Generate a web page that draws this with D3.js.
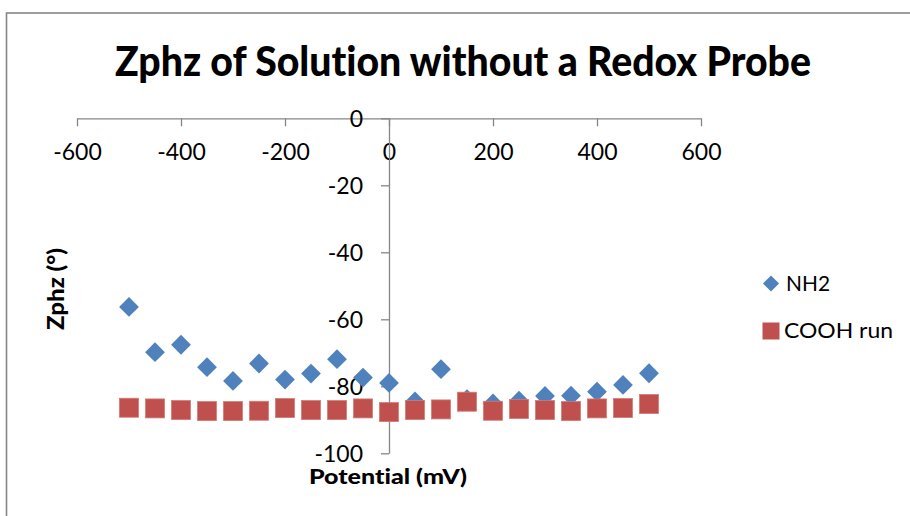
<!DOCTYPE html>
<html>
<head>
<meta charset="utf-8">
<script src="https://cdn.jsdelivr.net/npm/d3@7"></script>
<style>
  html, body { margin: 0; padding: 0; background: #fff; }
  svg { display: block; font-variant-ligatures: none; }
  text { font-variant-ligatures: none; }
  .tick text { font-family: Lato, "Liberation Sans", sans-serif; font-size: 23px; fill: #000; }
</style>
</head>
<body>
<svg id="chart" width="910" height="516"></svg>
<script>
// Potential sweep (mV)
const potentials = [-500, -450, -400, -350, -300, -250, -200, -150, -100, -50, 0,
                    50, 100, 150, 200, 250, 300, 350, 400, 450, 500];
// Phase angle (°) for each electrode
const nh2 = [-56.3, -69.8, -67.6, -74.3, -78.4, -73.2, -78.0, -76.2, -71.9, -77.4, -79.0,
             -84.5, -74.9, -83.8, -85.1, -84.3, -82.9, -82.8, -81.6, -79.6, -76.1];
const cooh = [-86.4, -86.6, -87.1, -87.4, -87.4, -87.3, -86.5, -87.1, -87.1, -86.6, -87.7,
              -87.1, -86.9, -84.6, -87.3, -86.8, -87.1, -87.4, -86.6, -86.5, -85.3];
const xTicks = [-600, -400, -200, 0, 200, 400, 600];
const yTicks = [-100, -80, -60, -40, -20, 0];
const seriesNames = ["NH2", "COOH run"];
const seriesColors = ["#4F81BD", "#C0504D"];

const svg = d3.select("#chart");
const axisColor = "#868686";
const font = "Lato, 'Liberation Sans', sans-serif";
// plain hyphen-minus for negative tick values
const plain = d => String(d);

// chart frame
svg.append("rect")
  .attr("x", 6.5).attr("y", 13)
  .attr("width", 950).attr("height", 600)
  .attr("fill", "none").attr("stroke", axisColor).attr("stroke-width", 1.6);

const x = d3.scaleLinear().domain([-600, 600]).range([77, 701]);
const y = d3.scaleLinear().domain([-100, 0]).range([453.3, 118.3]);

// title
svg.append("text")
  .attr("x", 463).attr("y", 76)
  .attr("text-anchor", "middle")
  .attr("font-family", font)
  .attr("font-weight", "900").attr("font-size", 41)
  .attr("textLength", 696).attr("lengthAdjust", "spacingAndGlyphs")
  .text("Zphz of Solution without a Redox Probe");

// x axis crossing at y = 0
const gx = svg.append("g")
  .attr("transform", `translate(0,${y(0)})`)
  .call(d3.axisBottom(x).tickValues(xTicks).tickFormat(plain)
    .tickSize(8).tickSizeOuter(0).tickPadding(17));
gx.select(".domain").attr("stroke", axisColor).attr("stroke-width", 1.3);
gx.selectAll(".tick line").attr("stroke", axisColor).attr("stroke-width", 1.3);
gx.selectAll(".tick text").attr("font-family", null).attr("font-size", null);

// y axis crossing at x = 0
const gy = svg.append("g")
  .attr("transform", `translate(${x(0)},0)`)
  .call(d3.axisLeft(y).tickValues(yTicks).tickFormat(plain)
    .tickSize(8).tickSizeOuter(0).tickPadding(18));
gy.select(".domain").attr("stroke", axisColor).attr("stroke-width", 1.3);
gy.selectAll(".tick line").attr("stroke", axisColor).attr("stroke-width", 1.3);
gy.selectAll(".tick text").attr("font-family", null).attr("font-size", null).attr("dy", "0.36em");

// axis titles
svg.append("text")
  .attr("x", 388).attr("y", 484)
  .attr("text-anchor", "middle")
  .attr("font-family", font)
  .attr("font-weight", "900").attr("font-size", 21)
  .attr("textLength", 158).attr("lengthAdjust", "spacingAndGlyphs")
  .text("Potential (mV)");

svg.append("text")
  .attr("transform", "translate(64,289) rotate(-90)")
  .attr("text-anchor", "middle")
  .attr("font-family", font)
  .attr("font-weight", "900").attr("font-size", 23)
  .attr("textLength", 82).attr("lengthAdjust", "spacingAndGlyphs")
  .text("Zphz (°)");

// NH2 series: diamonds
svg.append("g").selectAll("rect")
  .data(potentials.map((p, i) => [p, nh2[i]]))
  .join("rect")
  .attr("x", -7).attr("y", -7).attr("width", 14).attr("height", 14)
  .attr("transform", d => `translate(${x(d[0])},${y(d[1])}) rotate(45)`)
  .attr("fill", seriesColors[0]);

// COOH series: squares
svg.append("g").selectAll("rect")
  .data(potentials.map((p, i) => [p, cooh[i]]))
  .join("rect")
  .attr("x", d => x(d[0]) - 9.5).attr("y", d => y(d[1]) - 9.5)
  .attr("width", 19).attr("height", 19)
  .attr("fill", seriesColors[1])
  .attr("stroke", "#d27a77").attr("stroke-width", 0.8);

// legend
const legend = svg.append("g").attr("font-family", font).attr("font-size", 22);
legend.append("rect")
  .attr("x", -5.7).attr("y", -5.7).attr("width", 11.4).attr("height", 11.4)
  .attr("transform", "translate(771,283.5) rotate(45)")
  .attr("fill", seriesColors[0]);
legend.append("text").attr("x", 786).attr("y", 291).attr("textLength", 44)
  .attr("lengthAdjust", "spacingAndGlyphs").text(seriesNames[0]);
legend.append("rect")
  .attr("x", 762.5).attr("y", 322.5).attr("width", 17).attr("height", 17)
  .attr("fill", seriesColors[1]);
legend.append("text").attr("x", 784).attr("y", 337.5).attr("textLength", 109)
  .attr("lengthAdjust", "spacingAndGlyphs").text(seriesNames[1]);
</script>
</body>
</html>
